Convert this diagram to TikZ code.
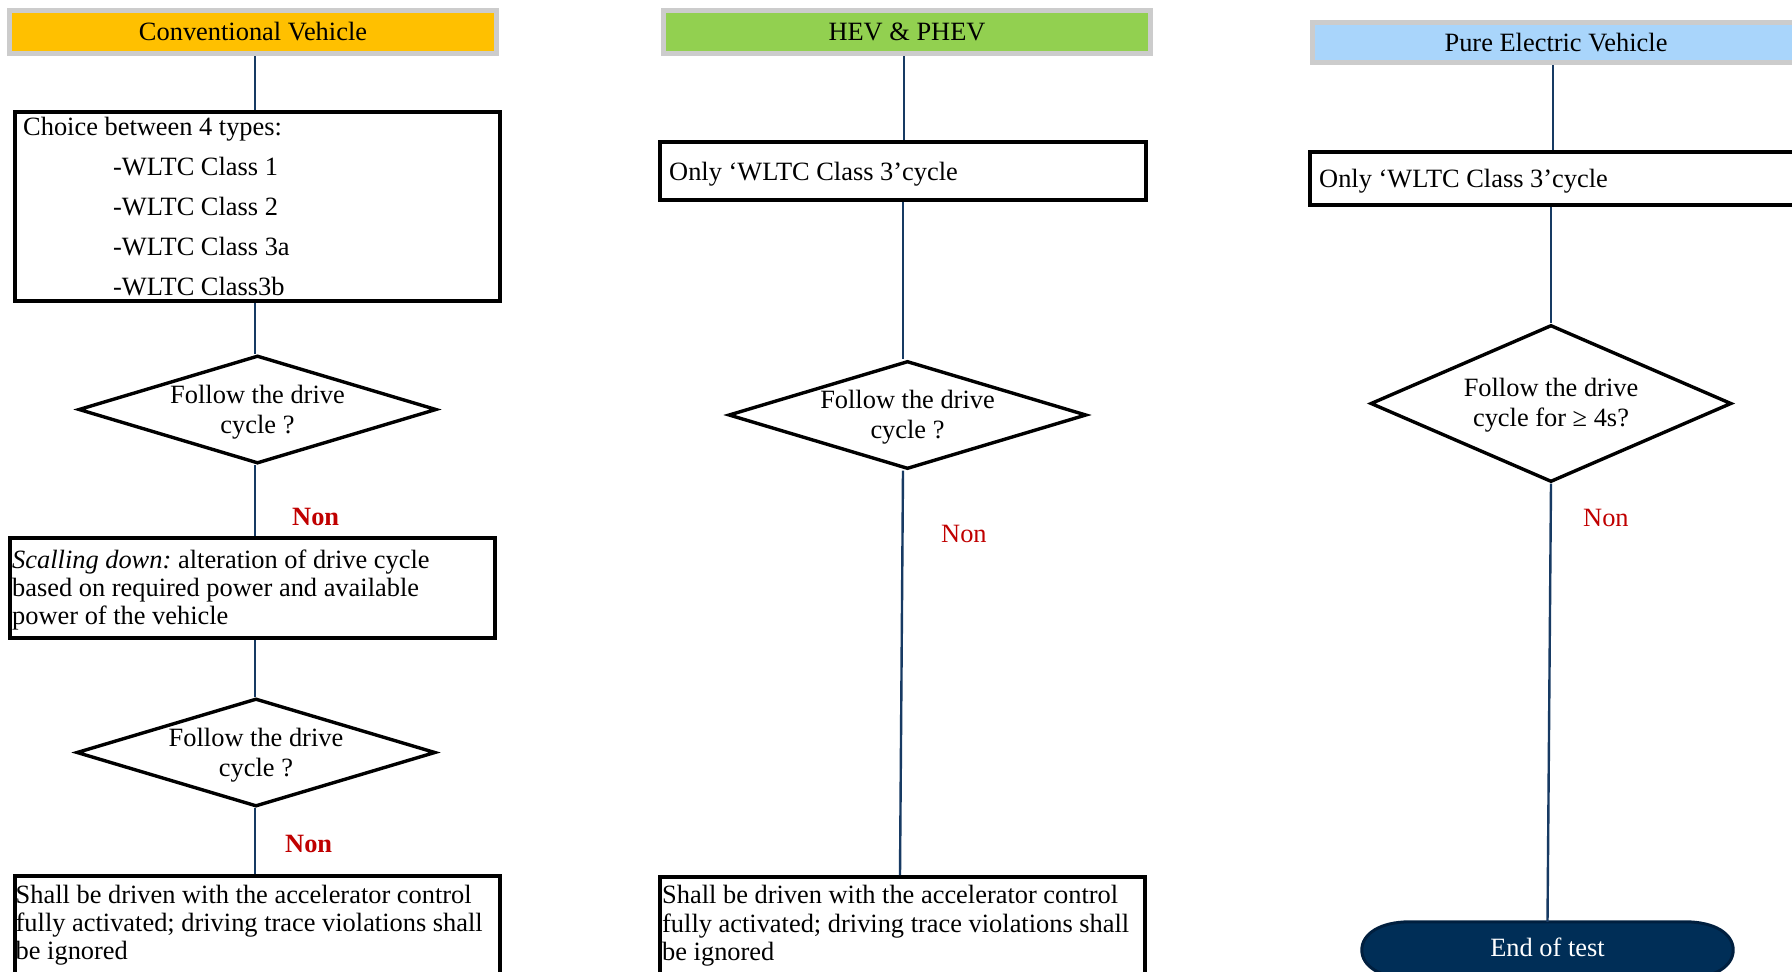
\documentclass[tikz,border=0pt]{standalone}
\usepackage{fontspec}
\setmainfont{Liberation Serif}
\usetikzlibrary{shapes.geometric}
\definecolor{conv}{HTML}{FFC000}
\definecolor{hev}{HTML}{92D050}
\definecolor{pev}{HTML}{A9D5FB}
\definecolor{hdrgray}{HTML}{CCCCCC}
\definecolor{lnblue}{HTML}{173A63}
\definecolor{nonred}{HTML}{C00000}
\definecolor{endfill}{HTML}{002E57}
\definecolor{endline}{HTML}{001F3F}
\begin{document}
\begin{tikzpicture}[x=1pt,y=-1pt,
  every node/.style={font=\fontsize{26.4}{30}\selectfont},
  hdr/.style={draw=hdrgray, line width=5pt, minimum height=43pt, minimum width=487pt, inner sep=0pt},
  box/.style={draw=black, line width=3.8pt, inner sep=0pt},
  dec/.style={diamond, draw=black, line width=3.4pt, inner sep=0pt, fill=white},
  dtxt/.style={inner sep=0pt, align=center},
  txt/.style={anchor=base west, inner sep=0pt},
  conn/.style={draw=lnblue, line width=2.4pt},
  nonb/.style={anchor=base west, inner sep=0pt, text=nonred, font=\fontsize{26.4}{30}\selectfont\bfseries},
  non/.style={anchor=base west, inner sep=0pt, text=nonred},
  endshape/.style={fill=endfill, draw=endline, line width=3pt},
]
\clip (0,0) rectangle (1792,972);
\fill[white] (0,0) rectangle (1792,972);

% column x for connectors
\coordinate (lx) at (255,0);
\coordinate (mxa) at (904,0);
\coordinate (mxb) at (903,0);
\coordinate (mxc) at (900,0);
\coordinate (pxa) at (1553,0);
\coordinate (pxb) at (1551,0);
\coordinate (pxc) at (1547.5,0);

% headers
\node[hdr, fill=conv] (h1) at (253,32) {Conventional Vehicle};
\node[hdr, fill=hev] (h2) at (907,32) {HEV \& PHEV};
\node[hdr, fill=pev, minimum height=40pt] (h3) at (1556,42.5) {Pure Electric Vehicle};

% conventional column
\node[box, minimum width=485pt, minimum height=189pt] (c1) at (257.5,206.5) {};
\node[txt] (ct0) at (23,135) {Choice between 4 types:};
\node[txt] (ct1) at (113,175) {-WLTC Class 1};
\node[txt] (ct2) at (113,215) {-WLTC Class 2};
\node[txt] (ct3) at (113,255) {-WLTC Class 3a};
\node[txt] (ct4) at (113,295) {-WLTC Class3b};

\node[dec, minimum width=358pt, minimum height=108pt] (d1) at (257.5,409.5) {};
\node[dtxt] (d1t) at (257.5,412) {Follow the drive\\cycle ?};
\node[nonb] (n1) at (292,525) {Non};

\node[box, minimum width=485pt, minimum height=100pt] (c2) at (252.5,588) {};
\node[txt] (st1) at (12,568) {\textit{Scalling down:}\hspace{-2pt} alteration of drive cycle};
\node[txt] (st2) at (12,596) {based on required power and available};
\node[txt] (st3) at (12,624) {power of the vehicle};

\node[dec, minimum width=359pt, minimum height=108pt] (d2) at (256,752.5) {};
\node[dtxt] (d2t) at (256,755) {Follow the drive\\cycle ?};
\node[nonb] (n2) at (285,852) {Non};

\node[box, minimum width=485pt, minimum height=120pt] (c3) at (257.5,936) {};
\node[txt] (ft1) at (15.5,903) {Shall be driven with the accelerator control};
\node[txt] (ft2) at (15.5,931) {fully activated; driving trace violations shall};
\node[txt] (ft3) at (15.5,959) {be ignored};

% HEV column
\node[box, minimum width=486pt, minimum height=58pt] (m1) at (903,171) {};
\node[txt] (mt) at (669,180) {Only ‘WLTC Class 3’cycle};
\node[dec, minimum width=358pt, minimum height=108pt] (dm) at (907.5,415) {};
\node[dtxt] (dmt) at (907.5,417.5) {Follow the drive\\cycle ?};
\node[non] (n3) at (941,542) {Non};
\node[box, minimum width=485pt, minimum height=120pt] (m3) at (902.5,937) {};
\node[txt] (mf1) at (662,903) {Shall be driven with the accelerator control};
\node[txt] (mf2) at (662,932) {fully activated; driving trace violations shall};
\node[txt] (mf3) at (662,960) {be ignored};

% PEV column
\node[box, minimum width=486pt, minimum height=53pt] (p1) at (1553,178.5) {};
\node[txt] (pt) at (1319,187) {Only ‘WLTC Class 3’cycle};
\node[dec, minimum width=361pt, minimum height=157pt] (dp) at (1551,403.5) {};
\node[dtxt] (dpt) at (1551,405) {Follow the drive\\cycle for ≥ 4s?};
\node[non] (n4) at (1583,526) {Non};
\node[inner sep=0pt, minimum width=371pt, minimum height=56pt] (endt) at (1547.5,950) {};
\path[endshape] (endt.west)
  .. controls ([yshift=16pt]endt.west) and ([xshift=18pt]endt.north west) .. ([xshift=48pt]endt.north west)
  -- ([xshift=-48pt]endt.north east)
  .. controls ([xshift=-18pt]endt.north east) and ([yshift=16pt]endt.east) .. (endt.east)
  .. controls ([yshift=-16pt]endt.east) and ([xshift=-18pt]endt.south east) .. ([xshift=-48pt]endt.south east)
  -- ([xshift=48pt]endt.south west)
  .. controls ([xshift=18pt]endt.south west) and ([yshift=-16pt]endt.west) .. (endt.west) -- cycle;
\node[text=white] (endlabel) at (1547.5,947) {End of test};

% connectors
\draw[conn] (h1.south -| lx) -- (c1.north -| lx);
\draw[conn] (c1.south -| lx) -- (d1.north -| lx);
\draw[conn] (d1.south -| lx) -- (c2.north -| lx);
\draw[conn] (c2.south -| lx) -- (d2.north -| lx);
\draw[conn] (d2.south -| lx) -- (c3.north -| lx);

\draw[conn] (h2.south -| mxa) -- (m1.north -| mxa);
\draw[conn] (m1.south -| mxb) -- (dm.north -| mxb);
\draw[conn] (dm.south -| mxb) -- (m3.north -| mxc);

\draw[conn] (h3.south -| pxa) -- (p1.north -| pxa);
\draw[conn] (p1.south -| pxb) -- (dp.north -| pxb);
\draw[conn] (dp.south -| pxb) -- (endt.north -| pxc);
\end{tikzpicture}
\end{document}
